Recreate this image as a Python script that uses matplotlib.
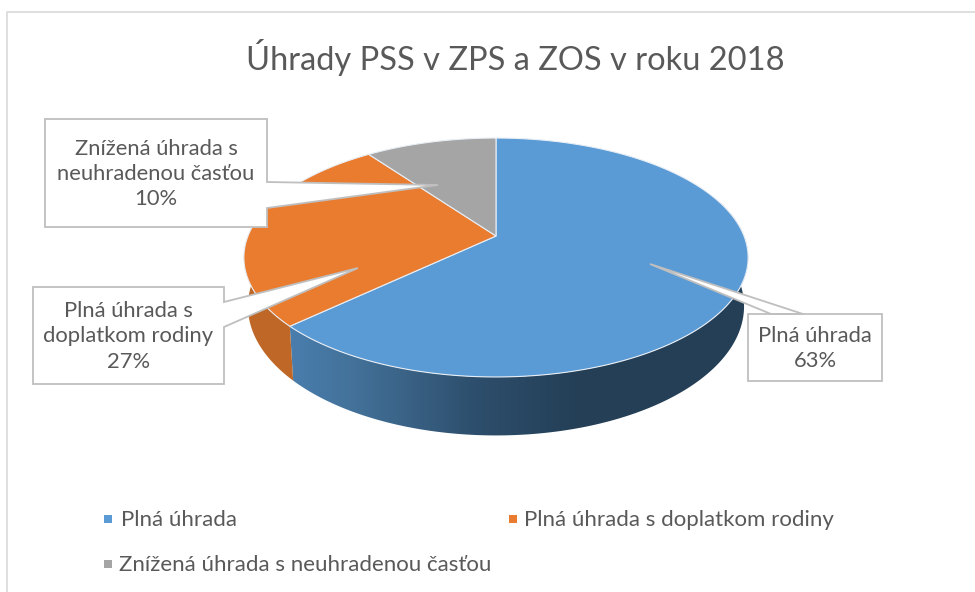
import numpy as np
import matplotlib
matplotlib.use("Agg")
import matplotlib.pyplot as plt
from matplotlib.colors import LinearSegmentedColormap
from matplotlib.patches import Polygon

plt.rcParams['font.family'] = ['Lato', 'DejaVu Sans']

title = "Úhrady PSS v ZPS a ZOS v roku 2018"
labels = ["Plná úhrada", "Plná úhrada s doplatkom rodiny", "Znížená úhrada s neuhradenou časťou"]
shares = [63, 27, 10]
colors = ["#5B9BD5", "#EA7C30", "#A5A5A5"]
callouts = ["Plná úhrada\n63%", "Plná úhrada s\ndoplatkom rodiny\n27%", "Znížená úhrada s\nneuhradenou časťou\n10%"]

GREY_TEXT = "#595959"
EDGE = "#bfbfbf"


def rim(t, cx, cy, a, b, k=0.18):
    """
    point on the pie rim in perspective, t is clockwise from 12 o'clock
    """
    u = np.sin(t)
    v = -np.cos(t)
    w = 1 - k*v
    return np.column_stack((cx + a*u/w, cy + b*v/w))


def top_rim(t):
    return rim(t, 496, 236, 248, 115.6)


def bottom_rim(t):
    return rim(t, 496, 283, 244, 125)


def callout(ax, box, tail, side, text, fontsize=15.8):
    """
    white label box with a pointed tail
    """
    x0, y0, x1, y1 = box
    if side == "right":
        pts = [(x0, y0), (x1, y0), tail[0], tail[1], tail[2], (x1, y1), (x0, y1)]
    else:
        pts = [(x0, y0), tail[0], tail[1], tail[2], (x1, y0), (x1, y1), (x0, y1)]
    ax.add_patch(Polygon(pts, closed=True, fc="white", ec=EDGE, lw=1.3, zorder=6))
    ax.text((x0 + x1)/2, (y0 + y1)/2 + 1, text, ha="center", va="center", fontsize=fontsize,
            color=GREY_TEXT, linespacing=1.33, zorder=7)


fig = plt.figure(figsize=(9.75, 5.92), dpi=100)
ax = fig.add_axes([0, 0, 1, 1])

edges = 2*np.pi*np.cumsum([0] + shares)/sum(shares)

# side wall, blue part has a gradient
t_blue = np.linspace(np.radians(60), edges[1], 200)
wall_blue = np.vstack((top_rim(t_blue), bottom_rim(t_blue[::-1])))
patch = Polygon(wall_blue, closed=True, fc="none", ec="none", zorder=2)
ax.add_patch(patch)
cmap = LinearSegmentedColormap.from_list("wall", [(0, "#4A7EAE"), (0.14, "#437199"), (0.4, "#2D4E6C"),
                                                  (0.62, "#243F56"), (1, "#243F56")])
img = ax.imshow(np.linspace(0, 1, 256).reshape(1, -1), extent=(288, 760, 440, 200), cmap=cmap,
                aspect="auto", zorder=2)
img.set_clip_path(patch)

t_orange = np.linspace(edges[1], np.radians(300), 100)
ax.add_patch(Polygon(np.vstack((top_rim(t_orange), bottom_rim(t_orange[::-1]))), closed=True,
                     fc="#BF6727", ec="none", zorder=2))

# top face
for i in range(len(shares)):
    t = np.linspace(edges[i], edges[i + 1], 200)
    pts = np.vstack(([[496, 236]], top_rim(t)))
    ax.add_patch(Polygon(pts, closed=True, fc=colors[i], ec="#e8eef5", lw=0.8, zorder=3))

callout(ax, (748, 314, 882, 381), [(803, 314), (650, 264), (771, 314)], "top", callouts[0])
callout(ax, (33, 287, 224, 384), [(224, 302), (358, 268), (224, 327)], "right", callouts[1])
callout(ax, (45, 119, 267, 227), [(267, 182), (438, 185), (267, 208)], "right", callouts[2])

ax.text(515, 58, title, ha="center", va="center", fontsize=23.5, color=GREY_TEXT)

# legend
legend_x = [108, 513, 108]
legend_y = [519, 519, 564]
text_x = [121, 524, 119]
for i in range(len(labels)):
    ax.scatter(legend_x[i], legend_y[i], marker="s", s=26, color=colors[i], linewidths=0, zorder=5)
    ax.text(text_x[i], legend_y[i] + 1, labels[i], ha="left", va="center", fontsize=16, color=GREY_TEXT)

# chart frame
ax.plot([6.5, 6.5, 975], [592, 11.5, 11.5], color="#d9d9d9", lw=1.2)

ax.set_xlim(0, 975)
ax.set_ylim(592, 0)
ax.axis("off")
fig.savefig("out.png", dpi=100)
